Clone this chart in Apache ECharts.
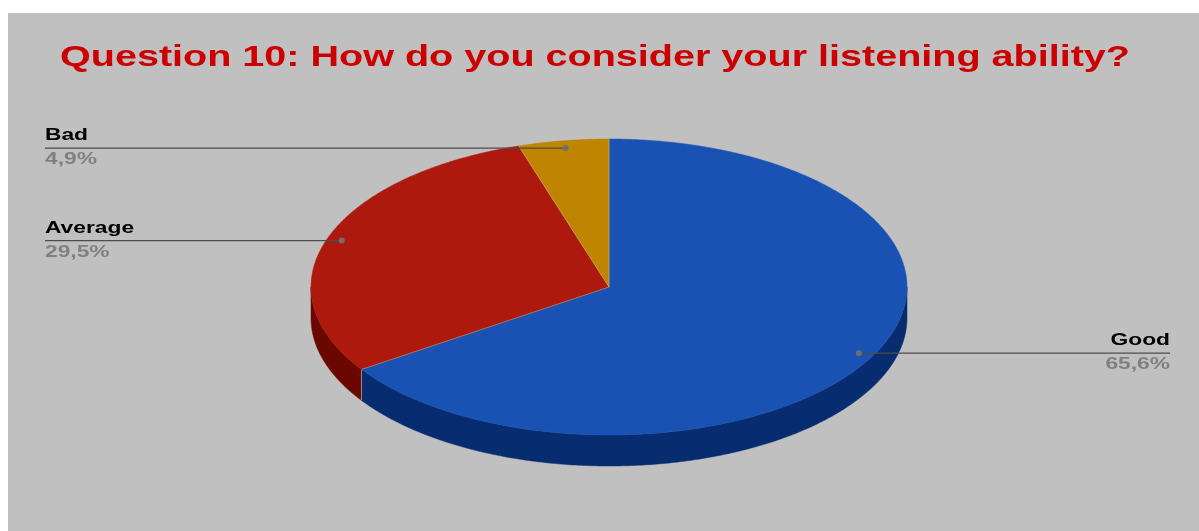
<!DOCTYPE html>
<html>
<head>
<meta charset="utf-8">
<script src="https://cdn.jsdelivr.net/npm/echarts@6/dist/echarts.min.js"></script>
<style>
  html, body { margin: 0; padding: 0; background: #ffffff; }
  #chart { position: absolute; left: 8px; top: 13px; width: 1191px; height: 518px; background: #c0c0c0; }
</style>
</head>
<body>
<div id="chart"></div>
<script>
// Survey answers, share of respondents in percent
const titleText = 'Question 10: How do you consider your listening ability?';
const categories = ['Good', 'Average', 'Bad'];
const shares = [65.6, 29.5, 4.9];
const topColors = ['#1a52b4', '#ad190c', '#bf8400'];
const wallColors = ['#072c70', '#6a0800', '#7a5400'];

const total = shares.reduce((a, b) => a + b, 0);
const cumulative = [];
shares.reduce((acc, v, i) => { cumulative[i] = acc; return acc + v; }, 0);

// Tilted pie geometry (chart-local pixels)
const cx = 601, cy = 274, rx = 298, ry = 148, depth = 31;
const textStretch = 1.34;
const labelFont = 'bold 17px "Liberation Sans", Arial, sans-serif';
const leftEdge = 37, rightEdge = 1162;

const fmtPct = v => v.toFixed(1).replace('.', ',') + '%';

function pt(t, f, dy) {
  return [cx + rx * f * Math.sin(t), cy - ry * f * Math.cos(t) + (dy || 0)];
}
function arc(t0, t1, f, dy) {
  const n = Math.max(2, Math.ceil((t1 - t0) / 0.01));
  const out = [];
  for (let k = 0; k <= n; k++) out.push(pt(t0 + (t1 - t0) * k / n, f, dy));
  return out;
}

function renderItem(params, api) {
  const i = params.dataIndex;
  const v = api.value(0);
  const start = cumulative[i] / total * Math.PI * 2;
  const end = start + v / total * Math.PI * 2;
  const children = [];

  // front wall (only the lower half of the ellipse is visible)
  const w0 = Math.max(start, Math.PI / 2), w1 = Math.min(end, Math.PI * 1.5);
  if (w1 > w0) {
    const top = arc(w0, w1, 1, 0);
    const bottom = arc(w0, w1, 1, depth).reverse();
    children.push({
      type: 'polygon', z2: 1,
      shape: { points: top.concat(bottom) },
      style: { fill: wallColors[i], stroke: wallColors[i], lineWidth: 0.5 }
    });
    // seam where the wall starts
    if (w0 === start) {
      const a = pt(start, 1, 0), b = pt(start, 1, depth);
      children.push({
        type: 'line', z2: 2,
        shape: { x1: a[0], y1: a[1], x2: b[0], y2: b[1] },
        style: { stroke: 'rgba(190,190,190,0.7)', lineWidth: 1 }
      });
    }
  }

  // top face
  children.push({
    type: 'polygon', z2: 5,
    shape: { points: [[cx, cy]].concat(arc(start, end, 1, 0)) },
    style: { fill: topColors[i], stroke: topColors[i], lineWidth: 0.5 }
  });
  const edge = pt(start, 1, 0);
  children.push({
    type: 'line', z2: 6,
    shape: { x1: cx, y1: cy, x2: edge[0], y2: edge[1] },
    style: { stroke: 'rgba(200,200,200,0.55)', lineWidth: 0.8 }
  });

  // leader line and label
  const mid = (start + end) / 2;
  const anchor = pt(mid, 0.95, 0);
  const onLeft = Math.sin(mid) < 0;
  const endX = onLeft ? leftEdge : rightEdge;
  children.push({
    type: 'line', z2: 8,
    shape: { x1: anchor[0], y1: anchor[1], x2: endX, y2: anchor[1] },
    style: { stroke: '#4d4d4d', lineWidth: 1.2 }
  });
  children.push({
    type: 'circle', z2: 9,
    shape: { cx: anchor[0], cy: anchor[1], r: 3 },
    style: { fill: '#6e6e6e' }
  });
  children.push({
    type: 'text', z2: 10, x: endX, y: anchor[1] - 4, scaleX: textStretch,
    style: {
      text: categories[i], fill: '#000000', font: labelFont,
      align: onLeft ? 'left' : 'right', verticalAlign: 'bottom'
    }
  });
  children.push({
    type: 'text', z2: 10, x: endX, y: anchor[1] + 3, scaleX: textStretch,
    style: {
      text: fmtPct(v), fill: '#808080', font: labelFont,
      align: onLeft ? 'left' : 'right', verticalAlign: 'top'
    }
  });
  return { type: 'group', children };
}

// horizontal stretch so the heading spans the full width
const titleFont = 'bold 30px "Liberation Sans", Arial, sans-serif';
const ctx = document.createElement('canvas').getContext('2d');
ctx.font = titleFont;
const titleScale = 1070 / ctx.measureText(titleText).width;

const chart = echarts.init(document.getElementById('chart'));
chart.setOption({
  backgroundColor: '#c0c0c0',
  animation: false,
  graphic: [{
    type: 'text', x: 587, y: 45, scaleX: titleScale,
    style: { text: titleText, font: titleFont, fill: '#cc0000', align: 'center', verticalAlign: 'middle' }
  }],
  series: [{
    type: 'custom',
    coordinateSystem: 'none',
    renderItem: renderItem,
    data: shares.map(v => [v])
  }]
});
</script>
</body>
</html>
